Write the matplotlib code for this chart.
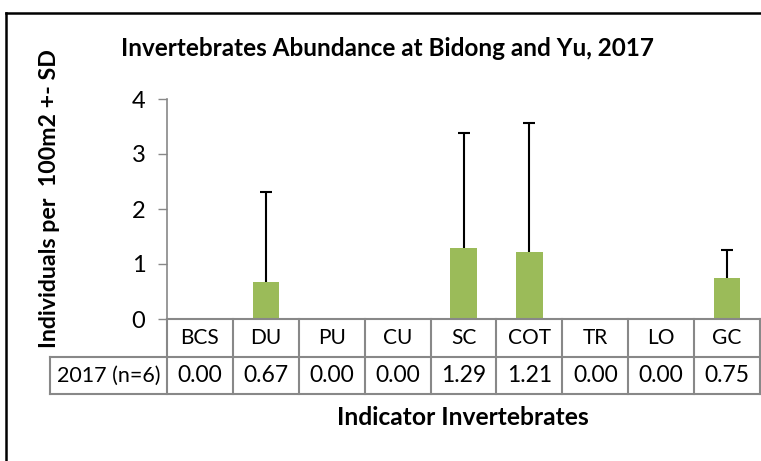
import matplotlib.pyplot as plt
from matplotlib.lines import Line2D

categories = ['BCS', 'DU', 'PU', 'CU', 'SC', 'COT', 'TR', 'LO', 'GC']
means = [0.00, 0.67, 0.00, 0.00, 1.29, 1.21, 0.00, 0.00, 0.75]
sd_upper = [0.0, 1.64, 0.0, 0.0, 2.09, 2.36, 0.0, 0.0, 0.50]
row_label = '2017 (n=6)'

plt.rcParams['font.family'] = ['Lato', 'DejaVu Sans']
W, H = 761, 461
fig = plt.figure(figsize=(W / 100, H / 100), dpi=100)

# axes box in pixels: x 167..760, y 99..319
ax = fig.add_axes([167 / W, (H - 319) / H, 593 / W, 220 / H])
x = list(range(len(categories)))
ax.bar(x, means, width=0.4, color='#9BBB59', zorder=2)

# upper-only error bars (Excel "plus" direction)
ex = [i for i, s in zip(x, sd_upper) if s > 0]
lo = [m for m, s in zip(means, sd_upper) if s > 0]
hi = [m + s for m, s in zip(means, sd_upper) if s > 0]
ax.vlines(ex, lo, hi, color='black', lw=1.5, zorder=3)
ax.plot(ex, hi, ls='none', marker='_', markersize=9, markeredgewidth=1.5,
        color='black', zorder=3)

ax.set_xlim(-0.5, len(categories) - 0.5)
ax.set_ylim(0, 4)
ax.set_yticks([0, 1, 2, 3, 4])
ax.set_xticks([])
ax.tick_params(axis='y', direction='out', length=6.5, width=1, color='#888888',
               labelsize=17, pad=9)
for s in ['top', 'right', 'bottom']:
    ax.spines[s].set_visible(False)
ax.spines['left'].set_color('#888888')
ax.spines['left'].set_linewidth(1.2)

# data table under the axis
grid = '#888888'
r1 = -38 / 220
r2 = -75 / 220
lab_x = (50 - 167) / 593
tr = ax.get_xaxis_transform()
ax.plot([-0.5, 8.5], [0, 0], transform=tr, color=grid, lw=1.5, clip_on=False)
for yy in [r1, r2]:
    ax.plot([lab_x, 1], [yy, yy], transform=ax.transAxes, color=grid, lw=1.5, clip_on=False)
for i in range(len(categories) + 1):
    ax.plot([i - 0.5, i - 0.5], [0, r2], transform=tr, color=grid, lw=1.5, clip_on=False)
ax.plot([lab_x, lab_x], [r1, r2], transform=ax.transAxes, color=grid, lw=1.5, clip_on=False)
for i, (c, v) in enumerate(zip(categories, means)):
    ax.text(i, r1 / 2, c, transform=tr, ha='center', va='center', fontsize=15)
    ax.text(i, (r1 + r2) / 2, f'{v:.2f}', transform=tr, ha='center', va='center', fontsize=16.5)
ax.text(lab_x / 2, (r1 + r2) / 2, row_label, transform=ax.transAxes,
        ha='center', va='center', fontsize=15.5)

fig.text(387 / W, 1 - 49 / H, 'Invertebrates Abundance at Bidong and Yu, 2017',
         ha='center', va='center', fontsize=17.5, fontweight='bold')
fig.text(50 / W, 1 - 199 / H, 'Individuals per  100m2 +- SD', rotation=90,
         ha='center', va='center', fontsize=16.7, fontweight='bold')
fig.text(463 / W, 1 - 417 / H, 'Indicator Invertebrates',
         ha='center', va='center', fontsize=17.7, fontweight='bold')

# outer chart border (left and top only visible)
fig.add_artist(Line2D([6 / W, 6 / W], [0, 1 - 13 / H], color='black', lw=1.8))
fig.add_artist(Line2D([6 / W, 1], [1 - 13 / H, 1 - 13 / H], color='black', lw=1.8))

fig.savefig('out.png', dpi=100)
